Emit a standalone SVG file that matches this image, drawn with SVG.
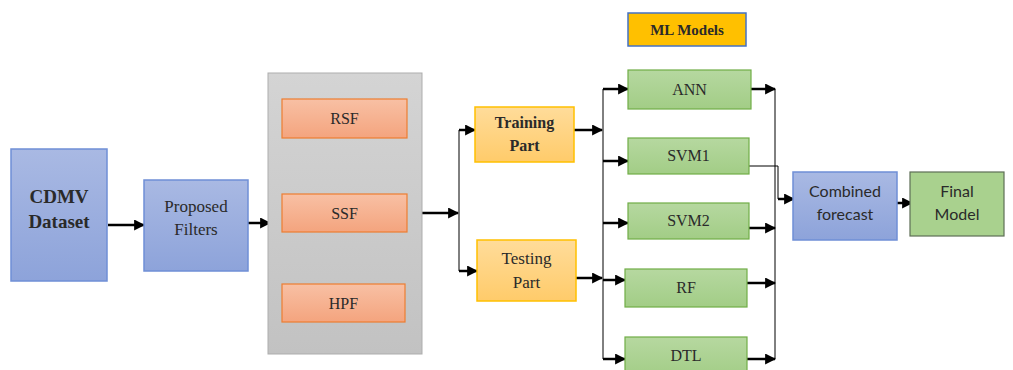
<svg xmlns="http://www.w3.org/2000/svg" width="1013" height="370" viewBox="0 0 1013 370">
<defs>
<linearGradient id="gBlue" x1="0" y1="0" x2="0" y2="1"><stop offset="0" stop-color="#A9B9E3"/><stop offset="1" stop-color="#8DA3DA"/></linearGradient>
<linearGradient id="gGray" x1="0" y1="0" x2="0" y2="1"><stop offset="0" stop-color="#D4D4D4"/><stop offset="1" stop-color="#C2C2C2"/></linearGradient>
<linearGradient id="gOrange" x1="0" y1="0" x2="0" y2="1"><stop offset="0" stop-color="#F8C0A4"/><stop offset="1" stop-color="#F4A47E"/></linearGradient>
<linearGradient id="gYellow" x1="0" y1="0" x2="0" y2="1"><stop offset="0" stop-color="#FFDC9A"/><stop offset="1" stop-color="#FFCB6A"/></linearGradient>
<linearGradient id="gGreen" x1="0" y1="0" x2="0" y2="1"><stop offset="0" stop-color="#B6D8A0"/><stop offset="1" stop-color="#A2CD86"/></linearGradient>
<marker id="ah" viewBox="0 0 10 10" refX="9" refY="5" markerWidth="4.4" markerHeight="4.4" orient="auto" markerUnits="strokeWidth"><path d="M0,0 L10,5 L0,10 z" fill="#000"/></marker>
</defs>
<style>
.serif{font-family:"Liberation Serif","DejaVu Serif",serif;fill:#2a2a2a;text-anchor:middle}
.sans{font-family:Lato,"Liberation Sans",sans-serif;fill:#2a2a2a;text-anchor:middle}
.blue{fill:url(#gBlue);stroke:#6F8FD6;stroke-width:1.5}
.orange{fill:url(#gOrange);stroke:#ED7D31;stroke-width:1.2}
.yellow{fill:url(#gYellow);stroke:#FFC000;stroke-width:1.5}
.green{fill:url(#gGreen);stroke:#70AD47;stroke-width:1.2}
.thick{stroke:#000;stroke-width:2.5;fill:none;marker-end:url(#ah)}
.thin{stroke:#000;stroke-width:1;fill:none}
</style>
<g id="connectors">
<line class="thick" x1="108" y1="225" x2="144" y2="225"/>
<line class="thick" x1="245" y1="223" x2="270" y2="223"/>
<line class="thick" x1="421" y1="213" x2="458" y2="213"/>
<line class="thin" x1="459" y1="130" x2="459" y2="271"/>
<line class="thick" x1="459" y1="130" x2="475" y2="130"/>
<line class="thick" x1="459" y1="271" x2="477" y2="271"/>
<line class="thick" x1="573" y1="130" x2="602" y2="130"/>
<line class="thick" x1="572" y1="278" x2="602" y2="278"/>
<line class="thin" x1="603" y1="89" x2="603" y2="359"/>
<line class="thick" x1="603" y1="89" x2="628" y2="89"/>
<line class="thick" x1="603" y1="161" x2="628" y2="161"/>
<line class="thick" x1="603" y1="223" x2="628" y2="223"/>
<line class="thick" x1="603" y1="280" x2="625" y2="280"/>
<line class="thick" x1="603" y1="359" x2="625" y2="359"/>
<line class="thin" x1="775" y1="89" x2="775" y2="359"/>
<line class="thick" x1="751" y1="89" x2="775" y2="89"/>
<line class="thick" x1="749" y1="228" x2="775" y2="228"/>
<line class="thick" x1="747" y1="283" x2="775" y2="283"/>
<line class="thick" x1="747" y1="359" x2="775" y2="359"/>
<polyline class="thin" points="749,166 778,166 778,199"/>
<line class="thick" x1="778" y1="199" x2="794" y2="199"/>
<line class="thick" x1="892" y1="203" x2="912" y2="203"/>
</g>
<g id="cdmv"><rect class="blue" x="11" y="149" width="96" height="132"/><text class="serif" x="59" y="203" font-size="19" font-weight="bold">CDMV</text><text class="serif" x="59" y="228" font-size="19" font-weight="bold">Dataset</text></g>
<g id="proposed"><rect class="blue" x="144" y="180" width="104" height="91"/><text class="serif" x="196" y="212" font-size="17">Proposed</text><text class="serif" x="196" y="235" font-size="17">Filters</text></g>
<g id="filters"><rect x="268" y="73" width="154" height="281" fill="url(#gGray)" stroke="#ADADAD" stroke-width="1"/></g>
<g id="rsf"><rect class="orange" x="282" y="99" width="125" height="39"/><text class="serif" x="344.5" y="124" font-size="16">RSF</text></g>
<g id="ssf"><rect class="orange" x="282" y="194" width="125" height="38"/><text class="serif" x="344.5" y="219" font-size="16">SSF</text></g>
<g id="hpf"><rect class="orange" x="282" y="284" width="123" height="38"/><text class="serif" x="343.5" y="309" font-size="16">HPF</text></g>
<g id="training"><rect class="yellow" x="475" y="107" width="99" height="55"/><text class="serif" x="524.5" y="128" font-size="16" font-weight="bold">Training</text><text class="serif" x="524.5" y="151" font-size="16" font-weight="bold">Part</text></g>
<g id="testing"><rect class="yellow" x="477" y="240" width="99" height="61"/><text class="serif" x="526.5" y="264" font-size="17">Testing</text><text class="serif" x="526.5" y="288" font-size="17">Part</text></g>
<g id="mlmodels"><rect x="628" y="13" width="118" height="33" fill="#FFC000" stroke="#4472C4" stroke-width="1.5"/><text class="serif" x="687" y="34.5" font-size="15" font-weight="bold">ML Models</text></g>
<g id="ann"><rect class="green" x="628" y="70" width="123" height="39"/><text class="serif" x="689.5" y="95" font-size="16">ANN</text></g>
<g id="svm1"><rect class="green" x="628" y="138" width="121" height="36"/><text class="serif" x="688.5" y="161" font-size="16">SVM1</text></g>
<g id="svm2"><rect class="green" x="628" y="203" width="121" height="36"/><text class="serif" x="688.5" y="226" font-size="16">SVM2</text></g>
<g id="rf"><rect class="green" x="625" y="269" width="122" height="38"/><text class="serif" x="686" y="293" font-size="16">RF</text></g>
<g id="dtl"><rect class="green" x="625" y="337" width="122" height="40"/><text class="serif" x="686" y="361" font-size="16">DTL</text></g>
<g id="combined"><rect class="blue" x="793" y="172" width="104" height="68"/><text class="sans" x="845" y="197" font-size="16">Combined</text><text class="sans" x="845" y="220" font-size="16">forecast</text></g>
<g id="final"><rect x="910" y="172" width="94" height="64" fill="#A9D18E" stroke="#5E6E55" stroke-width="1.2"/><text class="sans" x="957" y="197" font-size="16">Final</text><text class="sans" x="957" y="220" font-size="16">Model</text></g>
</svg>
